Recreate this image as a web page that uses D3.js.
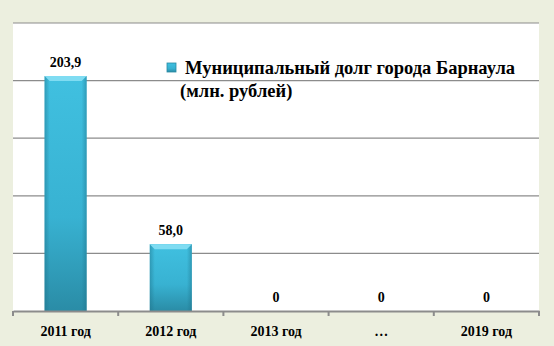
<!DOCTYPE html>
<html>
<head>
<meta charset="utf-8">
<script src="https://cdn.jsdelivr.net/npm/d3@7"></script>
<style>
  body { margin: 0; background: #ecefdf; }
  svg { display: block; }
  svg text { font-family: "Liberation Serif", "Times New Roman", serif; font-weight: bold; fill: #000; }
</style>
</head>
<body>
<div id="chart"></div>
<script>
// Data
const years = ["2011 год", "2012 год", "2013 год", "…", "2019 год"];
const debt = [203.9, 58.0, 0, 0, 0];
const debtLabels = ["203,9", "58,0", "0", "0", "0"];
const yTicks = [0, 50, 100, 150, 200, 250];
const seriesName = ["Муниципальный долг города Барнаула", "(млн. рублей)"];

const chart = {
  width: 554,
  height: 346,
  margin: { top: 23, right: 15, bottom: 35, left: 13 }
};
const w = chart.width - chart.margin.left - chart.margin.right;
const h = chart.height - chart.margin.top - chart.margin.bottom;

const svg = d3.select("#chart")
  .append("svg")
  .attr("width", chart.width)
  .attr("height", chart.height);

// gradients for the bevelled bars
const defs = svg.append("defs");
const grad = defs.append("linearGradient")
  .attr("id", "barGrad")
  .attr("x1", 0).attr("y1", 0).attr("x2", 0).attr("y2", 1);
grad.append("stop").attr("offset", "0%").attr("stop-color", "#40c0e0");
grad.append("stop").attr("offset", "60%").attr("stop-color", "#38b2d2");
grad.append("stop").attr("offset", "100%").attr("stop-color", "#2a8ca6");

const side = defs.append("linearGradient")
  .attr("id", "sideGrad")
  .attr("x1", 0).attr("y1", 0).attr("x2", 1).attr("y2", 0);
side.append("stop").attr("offset", "0%").attr("stop-color", "#1d6f86").attr("stop-opacity", 0.45);
side.append("stop").attr("offset", "12%").attr("stop-color", "#1d6f86").attr("stop-opacity", 0);
side.append("stop").attr("offset", "88%").attr("stop-color", "#1d6f86").attr("stop-opacity", 0);
side.append("stop").attr("offset", "100%").attr("stop-color", "#1d6f86").attr("stop-opacity", 0.45);

const g = svg.append("g")
  .attr("transform", "translate(" + chart.margin.left + "," + chart.margin.top + ")");

// white plot area
g.append("rect")
  .attr("width", w)
  .attr("height", h)
  .attr("fill", "#ffffff");

const x = d3.scaleBand()
  .domain(years)
  .range([0, w])
  .paddingInner(0.6)
  .paddingOuter(0.3);

const y = d3.scaleLinear()
  .domain([0, 250])
  .range([h, 0]);

// gridlines
g.selectAll(".grid")
  .data(yTicks.slice(1))
  .enter()
  .append("line")
  .attr("class", "grid")
  .attr("x1", 0)
  .attr("x2", w)
  .attr("y1", d => y(d))
  .attr("y2", d => y(d))
  .attr("stroke", "#8c8c8c")
  .attr("stroke-width", 1.2);

// bars
const bars = g.selectAll(".bar")
  .data(debt)
  .enter()
  .append("g")
  .attr("class", "bar")
  .filter(d => d > 0);

bars.append("rect")
  .attr("x", (d, i) => x(years[i]))
  .attr("y", d => y(d))
  .attr("width", x.bandwidth())
  .attr("height", d => h - y(d))
  .attr("fill", "url(#barGrad)");

bars.append("rect")
  .attr("x", (d, i) => x(years[i]))
  .attr("y", d => y(d))
  .attr("width", x.bandwidth())
  .attr("height", d => h - y(d))
  .attr("fill", "url(#sideGrad)");

// top bevel
bars.append("path")
  .attr("d", (d, i) => {
    const x0 = x(years[i]), x1 = x0 + x.bandwidth(), t = y(d), b = 5;
    return `M${x0},${t}L${x1},${t}L${x1 - b},${t + b}L${x0 + b},${t + b}Z`;
  })
  .attr("fill", "#7fdcf2");

// value labels
g.selectAll(".val")
  .data(debt)
  .enter()
  .append("text")
  .attr("class", "val")
  .attr("x", (d, i) => x(years[i]) + x.bandwidth() / 2)
  .attr("y", d => y(d) - 9)
  .attr("text-anchor", "middle")
  .style("font-size", "14px")
  .text((d, i) => debtLabels[i]);

// x axis
const xAxis = g.append("g")
  .attr("transform", "translate(0," + h + ")")
  .call(d3.axisBottom(x).tickSize(0).tickPadding(15));
xAxis.select(".domain").attr("stroke", "#8c8c8c").attr("stroke-width", 2);
xAxis.selectAll("text")
  .style("font-size", "14px");

// tick marks between categories
const step = w / years.length;
g.selectAll(".tick-mark")
  .data(d3.range(years.length + 1))
  .enter()
  .append("line")
  .attr("class", "tick-mark")
  .attr("x1", d => d * step)
  .attr("x2", d => d * step)
  .attr("y1", h)
  .attr("y2", h + 5)
  .attr("stroke", "#8c8c8c")
  .attr("stroke-width", 2);

// legend
const legend = svg.append("g")
  .attr("transform", "translate(167,63)");
legend.append("rect")
  .attr("width", 9)
  .attr("height", 9)
  .attr("fill", "url(#barGrad)")
  .attr("stroke", "#2a8aa4")
  .attr("stroke-width", 0.8);
legend.append("text")
  .attr("x", 18)
  .attr("y", 11)
  .style("font-size", "18.5px")
  .text(seriesName[0]);
legend.append("text")
  .attr("x", 13)
  .attr("y", 34)
  .style("font-size", "18.5px")
  .text(seriesName[1]);
</script>
</body>
</html>
